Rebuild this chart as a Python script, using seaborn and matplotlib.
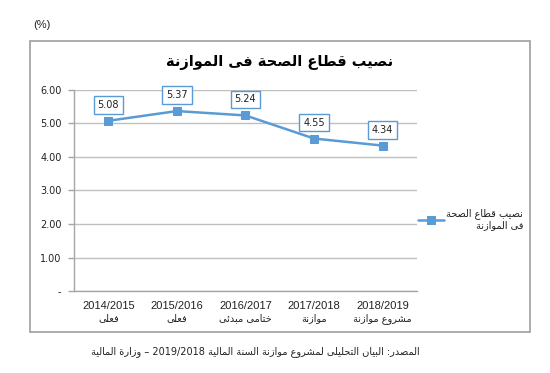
import re
import pandas as pd
import seaborn as sns
import matplotlib.pyplot as plt
from matplotlib.patches import Rectangle

# data
years = ["2014/2015", "2015/2016", "2016/2017", "2017/2018", "2018/2019"]
kinds = ["فعلى", "فعلى", "ختامى مبدئى", "موازنة", "مشروع موازنة"]
share = [5.08, 5.37, 5.24, 4.55, 4.34]
yticks = [0, 1, 2, 3, 4, 5, 6]

title = "نصيب قطاع الصحة فى الموازنة"
legend_lines = ["نصيب قطاع الصحة", "فى الموازنة"]
source = "المصدر: البيان التحليلى لمشروع موازنة السنة المالية 2019/2018 – وزارة المالية"

# matplotlib has no arabic shaping, so join letters by hand (presentation forms)
ARABIC = "ءآأؤإئابةتثجحخدذرزسشصضطظعغفقكلمنهوىي"
NFORMS = [1, 2, 2, 2, 2, 4, 2, 4, 2, 4, 4, 4, 4, 4, 2, 2, 2, 2, 4, 4, 4, 4, 4, 4, 4, 4,
          4, 4, 4, 4, 4, 4, 4, 2, 2, 4]
FORMS = {}
base = 0xFE80
for ch, n in zip(ARABIC, NFORMS):
    FORMS[ch] = (base, n)
    base += n
LAMALEF = {"ا": 0xFEFB, "آ": 0xFEF5, "أ": 0xFEF7, "إ": 0xFEF9}


def ar(s):
    items = []
    i = 0
    while i < len(s):
        if s[i] == "ل" and i + 1 < len(s) and s[i + 1] in LAMALEF:
            items.append(s[i:i + 2])
            i += 2
        else:
            items.append(s[i])
            i += 1

    def dual(it):
        return len(it) == 1 and it in FORMS and FORMS[it][1] == 4

    def letter(it):
        return it[0] in FORMS and it != "ء"

    out = ""
    for k, it in enumerate(items):
        prev = k > 0 and dual(items[k - 1]) and letter(it)
        nxt = k + 1 < len(items) and dual(it) and letter(items[k + 1])
        if len(it) == 2:
            out += chr(LAMALEF[it[1]] + int(prev))
        elif it in FORMS:
            b, n = FORMS[it]
            if n == 1:
                out += chr(b)
            elif n == 2:
                out += chr(b + int(prev))
            else:
                out += chr(b + int(prev) + 2 * int(nxt))
        else:
            out += it
    tokens = re.findall(r"\d+(?:[/.]\d+)*|.", out, re.S)
    return "".join(reversed(tokens))


df = pd.DataFrame({"year": years, "share": share})

sns.set_style("white")
plt.rcParams["font.family"] = ["DejaVu Sans"]

blue = "#5B9BD5"
grey = "#A6A6A6"

fig = plt.figure(figsize=(5.5, 3.73), dpi=100)
ax = fig.add_axes([0.1345, 0.2198, 0.6236, 0.539])

sns.lineplot(data=df, x="year", y="share", sort=False, color=blue, lw=1.8,
             marker="s", markersize=6, markeredgecolor=blue, ax=ax,
             label="\n".join(ar(t) for t in legend_lines))

ax.set_xlim(-0.5, len(years) - 0.5)
ax.set_ylim(0, 6)
ax.set_yticks(yticks)
ax.set_yticklabels(["-" if v == 0 else f"{v:.2f}" for v in yticks], fontsize=7, color="#222222")
ax.grid(axis="y", color="#BFBFBF", lw=1)
ax.set_axisbelow(True)
ax.set_xlabel("")
ax.set_ylabel("")

ax.set_xticks(range(len(years)))
ax.set_xticklabels(years, fontsize=8, family="Liberation Sans", color="#222222")
ax.set_xticks([i - 0.5 for i in range(len(years) + 1)], minor=True)
ax.tick_params(axis="x", which="major", length=0, pad=7)
ax.tick_params(axis="x", which="minor", length=4, color=grey, width=1)
ax.tick_params(axis="y", length=4, color=grey, width=1, left=True, pad=5)

for i, k in enumerate(kinds):
    ax.text(i, -0.137, ar(k), transform=ax.get_xaxis_transform(), ha="center", va="center",
            fontsize=7, color="#222222")

for s in ["top", "right"]:
    ax.spines[s].set_visible(False)
for s in ["left", "bottom"]:
    ax.spines[s].set_color(grey)
    ax.spines[s].set_linewidth(1)

for i, v in enumerate(share):
    ax.annotate(f"{v:.2f}", (i, v), xytext=(0, 11.5), textcoords="offset points",
                ha="center", va="center", fontsize=7, color="#222222",
                bbox=dict(boxstyle="square,pad=0.4", fc="white", ec=blue, lw=1))

leg = ax.legend(loc="center left", bbox_to_anchor=(418 / 550, 1 - 219 / 373),
                bbox_transform=fig.transFigure, frameon=False, fontsize=7,
                handlelength=2.7, handletextpad=0.2, borderpad=0, borderaxespad=0)
for t in leg.get_texts():
    t.set_multialignment("right")
    t.set_color("#222222")

fig.patches.append(Rectangle((30 / 550, 1 - 332 / 373), 500 / 550, 291 / 373,
                             transform=fig.transFigure, fill=False, ec=grey, lw=1.3))
fig.text(0.509, 1 - 63 / 373, ar(title), ha="center", va="center", fontsize=10.5,
         fontweight="bold", color="black")
fig.text(42 / 550, 1 - 25 / 373, "(%)", ha="center", va="center", fontsize=8,
         family="Liberation Sans", color="#222222")
fig.text(255 / 550, 1 - 352 / 373, ar(source), ha="center", va="center", fontsize=7,
         color="#222222")

fig.savefig("out.png", dpi=100)
